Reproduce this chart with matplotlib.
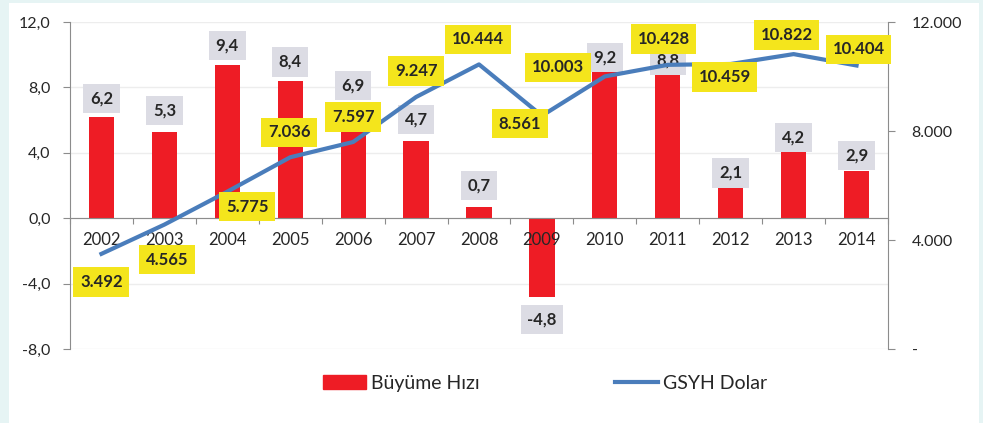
import matplotlib.pyplot as plt
import matplotlib.patches as mpatches
from matplotlib.lines import Line2D
from matplotlib.ticker import FixedLocator, NullFormatter

years = ["2002", "2003", "2004", "2005", "2006", "2007", "2008",
         "2009", "2010", "2011", "2012", "2013", "2014"]
growth = [6.2, 5.3, 9.4, 8.4, 6.9, 4.7, 0.7, -4.8, 9.2, 8.8, 2.1, 4.2, 2.9]
gdp = [3492, 4565, 5775, 7036, 7597, 9247, 10444, 8561, 10003, 10428,
       10459, 10822, 10404]

left_ticks = [-8, -4, 0, 4, 8, 12]
right_ticks = [0, 4000, 8000, 12000]
right_labels = ["-", "4.000", "8.000", "12.000"]

# label offsets (pixels, y up) - placed by hand like in the original
growth_off = [18, 21, 19, 19, 20, 22, 21, -23, 10, 14, 11, 12, 15]
gdp_off = [(0, -28), (3, -35), (20, -15), (-1, 25), (0, 25), (0, 26), (-1, 25),
           (-22, -8), (-47, 9), (-4, 26), (-6, -13), (-7, 19), (2, 16)]

RED = "#ee1c25"
BLUE = "#4a7dbb"
GREY_BOX = "#dcdce4"
YELLOW = "#f4e51c"
TXT = "#262626"
AX = "#8c8c8c"

plt.rcParams["font.family"] = ["Lato", "DejaVu Sans"]

fig = plt.figure(figsize=(9.83, 4.23), dpi=100, facecolor="#e6f4f4")
fig.patches.append(mpatches.Rectangle((9 / 983, 0), 970 / 983, 1 - 3 / 423,
                                      transform=fig.transFigure,
                                      facecolor="white", edgecolor="none", zorder=-1))

ax = fig.add_axes([70 / 983, 1 - 349 / 423, 818 / 983, 327 / 423])
ax.set_facecolor("none")
x = list(range(len(years)))

ax.bar(x, growth, width=0.4, color=RED, zorder=2)
ax.set_xlim(-0.5, len(years) - 0.5)
ax.set_ylim(-8, 12)
ax.set_yticks(left_ticks)
ax.set_yticklabels([f"{v:.1f}".replace(".", ",") for v in left_ticks])
ax.grid(axis="y", color="#ededed", lw=1, zorder=0)

for s in ["top", "right"]:
    ax.spines[s].set_visible(False)
ax.spines["left"].set_color(AX)
ax.spines["bottom"].set_color(AX)
ax.spines["bottom"].set_position(("data", 0))
ax.spines["bottom"].set_zorder(3)

ax.xaxis.set_major_locator(FixedLocator([i + 0.5 for i in x[:-1]] + [-0.5, len(years) - 0.5]))
ax.xaxis.set_major_formatter(NullFormatter())
ax.xaxis.set_minor_locator(FixedLocator(x))
ax.set_xticklabels(years, minor=True)
ax.xaxis.set_zorder(3)  # year labels sit on top of the bars
ax.tick_params(axis="x", which="major", direction="out", length=4, color=AX)
ax.tick_params(axis="x", which="minor", length=0, pad=10, labelsize=12, labelcolor=TXT)
ax.tick_params(axis="y", direction="out", length=5, color=AX, pad=9, labelsize=11.5,
               labelcolor=TXT)

for i, v in enumerate(growth):
    ax.annotate(f"{v:.1f}".replace(".", ","), (i, v), xytext=(0, growth_off[i]),
                textcoords="offset pixels", ha="center", va="center",
                fontsize=12, fontweight="bold", color=TXT, zorder=4,
                bbox=dict(boxstyle="square,pad=0.4", fc=GREY_BOX, ec="none"))

ax2 = ax.twinx()
ax2.plot(x, gdp, color=BLUE, lw=3, zorder=3)
ax2.set_ylim(0, 12000)
ax2.set_yticks(right_ticks)
ax2.set_yticklabels(right_labels)
for s in ["top", "left", "bottom"]:
    ax2.spines[s].set_visible(False)
ax2.spines["right"].set_color(AX)
ax2.tick_params(axis="y", direction="out", length=5, color=AX, pad=12, labelsize=11.5,
                labelcolor=TXT)

for i, v in enumerate(gdp):
    dx, dy = gdp_off[i]
    ax2.annotate(f"{v:,}".replace(",", "."), (i, v), xytext=(dx, dy),
                 textcoords="offset pixels", ha="center", va="center",
                 fontsize=12, fontweight="bold", color=TXT, zorder=5,
                 bbox=dict(boxstyle="square,pad=0.4", fc=YELLOW, ec="none"))

handles = [mpatches.Patch(color=RED, label="Büyüme Hızı"),
           Line2D([], [], color=BLUE, lw=3, label="GSYH Dolar")]
fig.legend(handles=handles, loc="center", bbox_to_anchor=(545 / 983, 1 - 383 / 423),
           ncol=2, frameon=False, fontsize=14, handlelength=2.2, handletextpad=0.25,
           columnspacing=7, labelcolor=TXT)

fig.savefig("out.png", dpi=100, facecolor=fig.get_facecolor())
